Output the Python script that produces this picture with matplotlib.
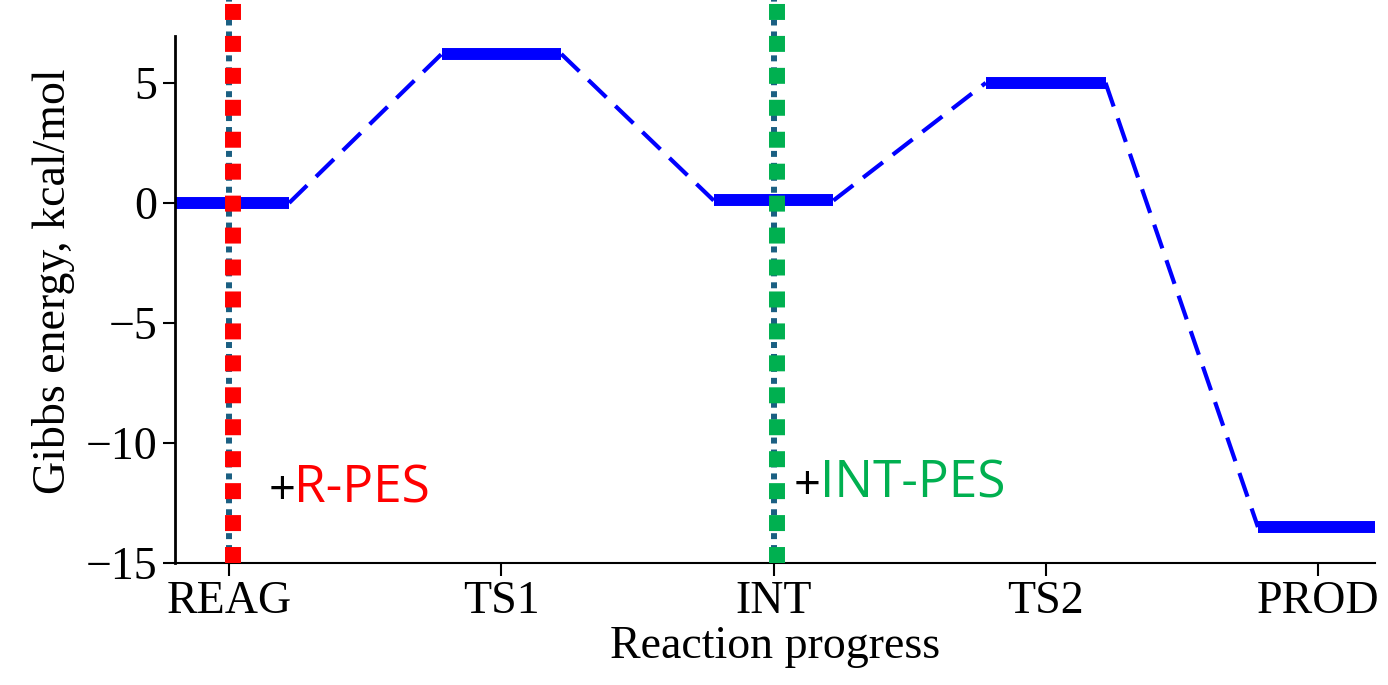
import matplotlib
matplotlib.use("Agg")
import matplotlib.pyplot as plt

# ---------------------------------------------------------------------------
# Data
# ---------------------------------------------------------------------------
stages = ["REAG", "TS1", "INT", "TS2", "PROD"]
energies = [0.0, 6.2, 0.1, 5.0, -13.5]   # kcal/mol

pes_stages = ["REAG", "INT"]
pes_labels = ["R-PES", "INT-PES"]
pes_colors = ["#ff0000", "#00b050"]
pes_label_y = [-12.0, -11.8]
pes_label_dx = [0.145, 0.075]

half_w = 0.22

plt.rcParams["font.family"] = ["Liberation Serif", "DejaVu Serif"]

fig = plt.figure(figsize=(13.88, 6.85), dpi=100)
ax = fig.add_axes([0.126, 0.178, 0.8646, 0.822])

xs = list(range(len(stages)))

# pes markers (drawn first so the levels sit on top)
for st, col in zip(pes_stages, pes_colors):
    x0 = stages.index(st)
    ax.axvline(x0, color="#1a5f82", lw=4.3, linestyle=(0, (1, 1)),
               dash_capstyle="butt", zorder=1)
    ax.axvline(x0 + 0.012, color=col, lw=11.5, linestyle=(0, (1, 1)),
               dash_capstyle="butt", zorder=3)

# energy levels
for x, e in zip(xs, energies):
    ax.plot([x - half_w, x + half_w], [e, e], color="#0000ff", lw=8.6,
            solid_capstyle="butt", zorder=2)

# connectors
for i in range(len(xs) - 1):
    ax.plot([xs[i] + half_w, xs[i + 1] - half_w], [energies[i], energies[i + 1]],
            color="#0000ff", lw=3.0, dashes=(6, 3), zorder=2)

# labels "+X-PES"
for st, lab, col, ly, dx in zip(pes_stages, pes_labels, pes_colors,
                                pes_label_y, pes_label_dx):
    x0 = stages.index(st)
    plus = ax.text(x0 + dx, ly, "+", fontsize=34, family="Open Sans",
                   color="black", va="center", ha="left", zorder=4)
    ax.annotate(lab, xy=(0.95, 0.0), xycoords=plus, va="bottom", ha="left",
                fontsize=37, family="Open Sans", color=col, zorder=4)

ax.set_xlim(-0.2, 4.21)
ax.set_ylim(-15, 8.45)
ax.set_xticks(xs)
ax.set_xticklabels(stages)
ax.set_yticks([-15, -10, -5, 0, 5])
ax.set_yticklabels(["\u221215", "\u221210", "\u22125", "0", "5"])
ax.tick_params(labelsize=33, direction="out", length=9, width=1.5)
ax.set_xlabel("Reaction progress", fontsize=33, labelpad=2)
ax.set_ylabel("Gibbs energy, kcal/mol", fontsize=33, labelpad=8)

ax.spines["top"].set_visible(False)
ax.spines["right"].set_visible(False)
ax.spines["left"].set_linewidth(2.0)
ax.spines["bottom"].set_linewidth(1.5)
ax.spines["left"].set_bounds(-15, 6.95)

fig.savefig("out.png", dpi=100)
